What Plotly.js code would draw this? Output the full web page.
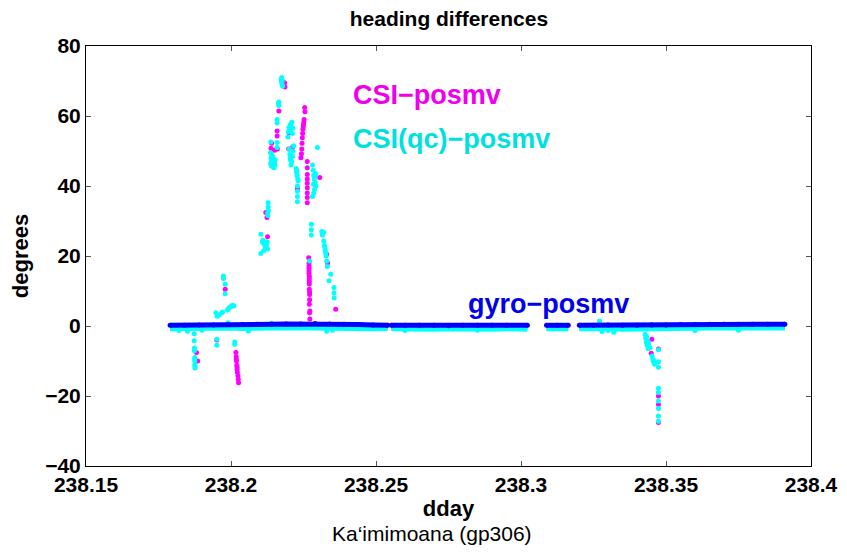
<!DOCTYPE html>
<html>
<head>
<meta charset="utf-8">
<script src="https://cdn.plot.ly/plotly-3.0.1.min.js"></script>
<style>html,body{margin:0;padding:0;background:#fff;}#chart{width:847px;height:556px;}</style>
</head>
<body>
<div id="chart"></div>
<script>
// ---- data ----
const xTickVals = [238.15, 238.2, 238.25, 238.3, 238.35, 238.4];
const xTickText = ["238.15", "238.2", "238.25", "238.3", "238.35", "238.4"];
const yTickVals = [-40, -20, 0, 20, 40, 60, 80];

// gyro - posmv (nearly continuous band, null = data gap)
const gyroDday = [238.179, 238.184, 238.189, 238.194, 238.199, 238.204, 238.209, 238.214, 238.219, 238.224, 238.229, 238.234, 238.239, 238.244, 238.249, 238.254, null,
  238.2553, 238.260, 238.265, 238.270, 238.275, 238.280, 238.285, 238.290, 238.295, 238.3022, null,
  238.3088, 238.3125, 238.3163, null,
  238.3201, 238.325, 238.330, 238.335, 238.340, 238.345, 238.350, 238.355, 238.360, 238.365, 238.370, 238.375, 238.380, 238.385, 238.391];
const gyroDeg = [0.2, 0.2, 0.3, 0.3, 0.4, 0.4, 0.5, 0.5, 0.6, 0.6, 0.7, 0.6, 0.5, 0.4, 0.3, 0.2, null,
  0.2, 0.2, 0.2, 0.2, 0.1, 0.2, 0.2, 0.2, 0.2, 0.2, null,
  0.2, 0.2, 0.2, null,
  0.2, 0.2, 0.3, 0.2, 0.2, 0.3, 0.3, 0.4, 0.4, 0.5, 0.5, 0.5, 0.5, 0.5, 0.5];

// CSI(qc) - posmv baseline band
const qcBaseDday = gyroDday;
const qcBaseDeg = [-0.8, -0.7, -0.9, -0.8, -0.6, -0.7, -0.8, -0.6, -0.5, -0.6, -0.4, -0.6, -0.8, -0.9, -0.8, -0.7, null,
  -0.8, -0.9, -0.8, -0.9, -0.8, -0.9, -0.8, -0.9, -0.8, -0.9, null,
  -0.8, -0.9, -0.8, null,
  -0.8, -0.7, -0.8, -0.9, -0.8, -0.7, -0.6, -0.7, -0.7, -0.6, -0.6, -0.7, -0.6, -0.6, -0.6];

// CSI - posmv baseline band
const csiBaseDday = gyroDday;
const csiBaseDeg = [-0.3, -0.3, -0.4, -0.3, -0.2, -0.3, -0.3, -0.2, -0.1, -0.2, 0.0, -0.2, -0.3, -0.4, -0.3, -0.3, null,
  -0.3, -0.4, -0.3, -0.4, -0.3, -0.4, -0.3, -0.4, -0.3, -0.4, null,
  -0.3, -0.4, -0.3, null,
  -0.3, -0.2, -0.3, -0.4, -0.3, -0.2, -0.1, -0.2, -0.2, -0.1, -0.1, -0.2, -0.1, -0.1, -0.1];

// CSI(qc) - posmv scattered points
const qcDday = [238.1873, 238.1873, 238.1874, 238.1874, 238.1875, 238.1875, 238.1875, 238.1876, 238.1876, 238.1875,
  238.1951, 238.1951, 238.2013, 238.2013,
  238.1948, 238.1952, 238.1960, 238.1968, 238.1971, 238.1988, 238.1994, 238.2000, 238.2006, 238.2010, 238.1991, 238.2003,
  238.1974, 238.1974, 238.1980, 238.1980,
  238.2128, 238.2128, 238.2129, 238.2127, 238.2126, 238.2103, 238.2110, 238.2113, 238.2118, 238.2120, 238.2125, 238.2126, 238.2112, 238.2103, 238.2122, 238.2108,
  238.2173, 238.2175, 238.2177, 238.2176, 238.2178, 238.2174, 238.2165, 238.2165, 238.2164, 238.2159, 238.2159, 238.2159, 238.2159,
  238.2136, 238.2138, 238.2140, 238.2142, 238.2145, 238.2148, 238.2150, 238.2152, 238.2144, 238.2137, 238.2137, 238.2141, 238.2147, 238.2139, 238.2151,
  238.2196, 238.2198, 238.2200, 238.2205, 238.2210, 238.2213, 238.2212, 238.2207, 238.2202,
  238.2201, 238.2203, 238.2205, 238.2207, 238.2212, 238.2214, 238.2216, 238.2209, 238.2204,
  238.2225, 238.2226, 238.2228, 238.2230, 238.2232, 238.2229, 238.2229, 238.2229, 238.2229, 238.2227,
  238.2281, 238.2283, 238.2285, 238.2287, 238.2290, 238.2293, 238.2288, 238.2285, 238.2281, 238.2292, 238.2298, 238.2289, 238.2284,
  238.2277, 238.2277, 238.2277, 238.2313, 238.2317, 238.2315, 238.2319,
  238.2320, 238.2322, 238.2325, 238.2328, 238.2330, 238.2332, 238.2324, 238.2327,
  238.2344, 238.2338, 238.2355, 238.2355, 238.2356, 238.2271,
  238.3428, 238.3430, 238.3432, 238.3435, 238.3438, 238.3440, 238.3445, 238.3433, 238.3437,
  238.3452, 238.3455, 238.3458, 238.3461, 238.3456,
  238.3474, 238.3474, 238.3474, 238.3474, 238.3474, 238.3474, 238.3474, 238.3474, 238.3474,
  238.1820, 238.1850, 238.1900, 238.2060, 238.2330, 238.2350, 238.3280, 238.3300, 238.3320, 238.3271,
  238.2600, 238.2850, 238.3600, 238.3750, 238.1990, 238.2140];
const qcDeg = [-2.2, -4.2, -6.3, -7.1, -9.0, -10.0, -11.0, -12.0, -11.5, -9.5,
  -3.8, -5.5, -5.2, -4.6,
  3.8, 2.8, 3.2, 3.8, 4.0, 4.6, 5.2, 5.6, 5.9, 5.7, 4.9, 5.8,
  14.3, 13.6, 11.9, 9.2,
  35.2, 34.0, 33.0, 31.6, 32.3, 26.2, 24.5, 23.5, 22.5, 22.8, 24.0, 22.0, 21.5, 20.7, 23.2, 24.0,
  70.5, 71.0, 70.0, 69.0, 68.5, 69.8, 64.0, 63.0, 63.6, 59.0, 58.0, 52.4, 51.0,
  49.5, 48.0, 47.0, 46.0, 45.5, 45.2, 46.5, 47.5, 48.5, 46.5, 52.6, 48.8, 47.2, 45.8, 46.0,
  54.0, 55.5, 56.8, 57.5, 58.2, 56.5, 55.0, 57.0, 55.8,
  50.5, 49.0, 47.5, 46.0, 48.5, 50.0, 51.5, 47.0, 48.0,
  45.0, 44.0, 43.0, 42.0, 41.5, 40.0, 38.5, 37.0, 35.5, 44.5,
  46.0, 44.5, 43.0, 42.0, 41.0, 40.0, 39.0, 38.0, 37.0, 43.5, 51.0, 42.5, 40.5,
  29.1, 27.5, 26.0, 27.0, 26.5, 26.0, 26.8,
  24.3, 23.0, 21.5, 20.0, 18.5, 17.0, 22.3, 20.8,
  14.8, 12.9, 11.0, 9.5, 8.0, 18.6,
  -2.4, -3.5, -4.6, -5.5, -6.4, -5.0, -6.2, -3.0, -4.2,
  -8.6, -9.5, -10.3, -10.9, -10.0,
  -6.8, -10.2, -11.8, -17.8, -19.0, -21.4, -23.6, -25.7, -27.2,
  -1.3, -1.5, -1.2, -1.4, -1.5, -1.2, -1.6, -1.3, -1.8, 1.4,
  -1.3, -1.2, -1.3, -1.2, 0.9, 0.8];

// CSI - posmv scattered points
const csiDday = [238.1881, 238.1885, 238.1951,
  238.2017, 238.2018, 238.2019, 238.2020, 238.2021, 238.2022, 238.2024, 238.2025, 238.2026, 238.2018, 238.2021,
  238.1980, 238.2120, 238.2124, 238.2126,
  238.2185, 238.2186, 238.2176, 238.2165, 238.2159, 238.2159, 238.2160, 238.2140, 238.2138, 238.2150, 238.2145,
  238.2200, 238.2199, 238.2213,
  238.2254, 238.2255, 238.2252, 238.2250, 238.2248, 238.2247, 238.2246, 238.2245, 238.2244, 238.2243, 238.2241, 238.2251, 238.2249,
  238.2229, 238.2263, 238.2263, 238.2263, 238.2263, 238.2263, 238.2263, 238.2263, 238.2263, 238.2263,
  238.2306, 238.2330, 238.2333, 238.2361,
  238.2268, 238.2269, 238.2269, 238.2269, 238.2269, 238.2269, 238.2270, 238.2270, 238.2270, 238.2270, 238.2270, 238.2271, 238.2271, 238.2271, 238.2272, 238.2272, 238.2270, 238.2271,
  238.3451, 238.3449, 238.3474, 238.3474, 238.3474, 238.3474];
const csiDeg = [-7.6, -10.0, -4.0,
  -7.6, -8.8, -10.0, -11.2, -12.4, -13.2, -14.2, -15.2, -16.2, -9.4, -11.8,
  10.5, 32.4, 31.0, 25.5,
  69.5, 68.3, 70.2, 61.4, 55.7, 54.3, 50.6, 52.2, 50.8, 50.2, 46.8,
  55.2, 50.6, 51.2,
  62.4, 61.2, 59.0, 57.6, 56.2, 55.0, 53.8, 52.2, 50.6, 49.2, 48.1, 58.3, 56.9,
  39.2, 47.0, 45.2, 43.3, 42.0, 39.5, 36.7, 35.2, 40.8, 38.0,
  42.4, 20.5, 18.0, 4.8,
  19.5, 18.0, 17.2, 16.5, 15.7, 15.0, 14.2, 13.5, 12.7, 12.0, 10.5, 9.7, 9.0, 7.5, 4.3, 2.0, 6.2, 3.8,
  -3.8, -7.8, -6.6, -22.4, -27.6, -20.0];

// ---- styles ----
const MAG = '#ff00ff', CYN = '#00ffff', BLU = '#0000ff';
const FONT = 'Liberation Sans, Arial, Helvetica, sans-serif';

const traces = [
  {x: csiBaseDday, y: csiBaseDeg, type: 'scatter', mode: 'lines', line: {color: MAG, width: 5}, connectgaps: false, hoverinfo: 'skip'},
  {x: csiDday, y: csiDeg, type: 'scatter', mode: 'markers', marker: {color: MAG, size: 5, line: {width: 0}}},
  {x: qcBaseDday, y: qcBaseDeg, type: 'scatter', mode: 'lines', line: {color: CYN, width: 5}, connectgaps: false, hoverinfo: 'skip'},
  {x: qcDday, y: qcDeg, type: 'scatter', mode: 'markers', marker: {color: CYN, size: 5, line: {width: 0}}},
  {x: gyroDday, y: gyroDeg, type: 'scatter', mode: 'lines+markers', line: {color: BLU, width: 5}, marker: {color: BLU, size: 5}, connectgaps: false}
];

const axisCommon = {
  showgrid: false, zeroline: false, showline: true, linecolor: '#000', linewidth: 1, mirror: 'ticks',
  ticks: 'inside', ticklen: 5, tickcolor: '#555', tickwidth: 1,
  tickfont: {family: FONT, size: 21, color: '#000', weight: 'bold'}
};

const layout = {
  width: 847, height: 556,
  margin: {l: 86, r: 36, t: 46, b: 90},
  paper_bgcolor: '#fff', plot_bgcolor: '#fff',
  showlegend: false,
  title: {text: 'heading differences', font: {family: FONT, size: 21, color: '#000', weight: 'bold'},
    x: 0.53, xanchor: 'center', y: 1 - 19 / 556, yanchor: 'middle', yref: 'container'},
  xaxis: Object.assign({}, axisCommon, {
    range: [238.15, 238.4], tickvals: xTickVals, ticktext: xTickText,
    title: {text: 'dday', font: {family: FONT, size: 22, color: '#000', weight: 'bold'}, standoff: 5}
  }),
  yaxis: Object.assign({}, axisCommon, {
    range: [-40, 80], tickvals: yTickVals,
    title: {text: 'degrees', font: {family: FONT, size: 22, color: '#000', weight: 'bold'}, standoff: 10}
  }),
  annotations: [
    {text: 'CSI\u2212posmv', x: 238.2413, y: 66, xref: 'x', yref: 'y', xanchor: 'left', yanchor: 'middle', showarrow: false,
      font: {family: FONT, size: 27, color: '#ee00ee', weight: 'bold'}},
    {text: 'CSI(qc)\u2212posmv', x: 238.2413, y: 53.3, xref: 'x', yref: 'y', xanchor: 'left', yanchor: 'middle', showarrow: false,
      font: {family: FONT, size: 27, color: '#00e0e0', weight: 'bold'}},
    {text: 'gyro\u2212posmv', x: 238.2809, y: 6.3, xref: 'x', yref: 'y', xanchor: 'left', yanchor: 'middle', showarrow: false,
      font: {family: FONT, size: 27, color: '#0000ee', weight: 'bold'}},
    {text: 'Ka\u2018imimoana (gp306)', x: (432 - 86) / 725, y: (466 - 533) / 420, xref: 'paper', yref: 'paper',
      xanchor: 'center', yanchor: 'middle', showarrow: false,
      font: {family: FONT, size: 21, color: '#000'}}
  ]
};

Plotly.newPlot('chart', traces, layout, {staticPlot: true, displayModeBar: false});
</script>
</body>
</html>
